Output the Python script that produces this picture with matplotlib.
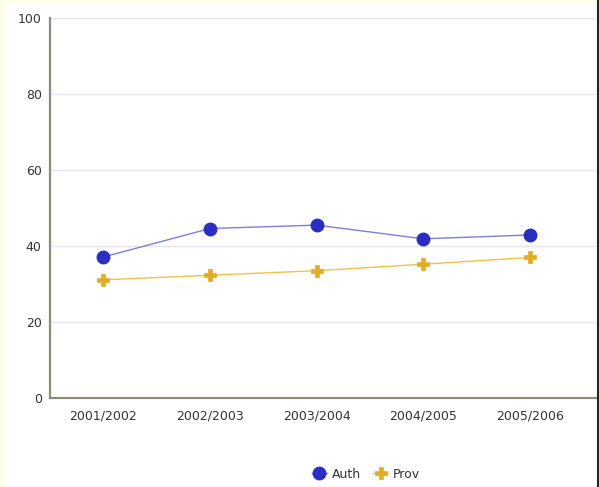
import matplotlib.pyplot as plt
from matplotlib.patches import Rectangle
from matplotlib.lines import Line2D

# datos
years = ['2001/2002', '2002/2003', '2003/2004', '2004/2005', '2005/2006']
auth = [37.1, 44.6, 45.5, 41.9, 42.9]
prov = [31.1, 32.3, 33.5, 35.2, 37.0]
y_ticks = [0, 20, 40, 60, 80, 100]

fig = plt.figure(figsize=(5.99, 4.87), dpi=100)
fig.patch.set_facecolor('#fefee9')

# panel blanco y borde derecho
fig.patches.append(Rectangle((5/599, 0), 592/599, 483/487, transform=fig.transFigure,
                             facecolor='white', edgecolor='none', zorder=-10))
fig.lines.append(Line2D([597.5/599, 597.5/599], [0, 1], transform=fig.transFigure,
                        color='#222222', linewidth=1.5, zorder=-5))

ax = fig.add_axes([50/599, 1 - 398/487, 546/599, 380/487])
ax.set_facecolor('white')

x = range(len(years))
ax.plot(x, auth, color='#7d7fdc', linewidth=1, marker='o', markersize=9,
        markerfacecolor='#2b2fbf', markeredgecolor='#2b2fbf', label='Auth', zorder=3)
ax.plot(x, prov, color='#f0c248', linewidth=1, marker='P', markersize=8.5,
        markerfacecolor='#e3ad22', markeredgecolor='#e3ad22', markeredgewidth=0.5,
        label='Prov', zorder=3)

ax.set_xlim(-0.5, 4.62)
ax.set_ylim(0, 100)
ax.set_xticks(list(x))
ax.set_xticklabels(years)
ax.set_yticks(y_ticks)

ax.grid(axis='y', color='#e4e4f6', linewidth=1)
ax.set_axisbelow(True)
for s in ['top', 'right']:
    ax.spines[s].set_visible(False)
for s in ['left', 'bottom']:
    ax.spines[s].set_color('#8c8c78')
    ax.spines[s].set_linewidth(1.6)
ax.tick_params(length=0, labelsize=9, colors='#333338')
ax.tick_params(axis='x', pad=8)
ax.tick_params(axis='y', pad=6)

fig.legend(loc='center', bbox_to_anchor=(366/599, 1 - 474/487), ncol=2, frameon=False,
           fontsize=9, handlelength=1.2, columnspacing=1.0, handletextpad=0.4,
           labelcolor='#333338')

fig.savefig('out.png', dpi=100, facecolor=fig.get_facecolor())
